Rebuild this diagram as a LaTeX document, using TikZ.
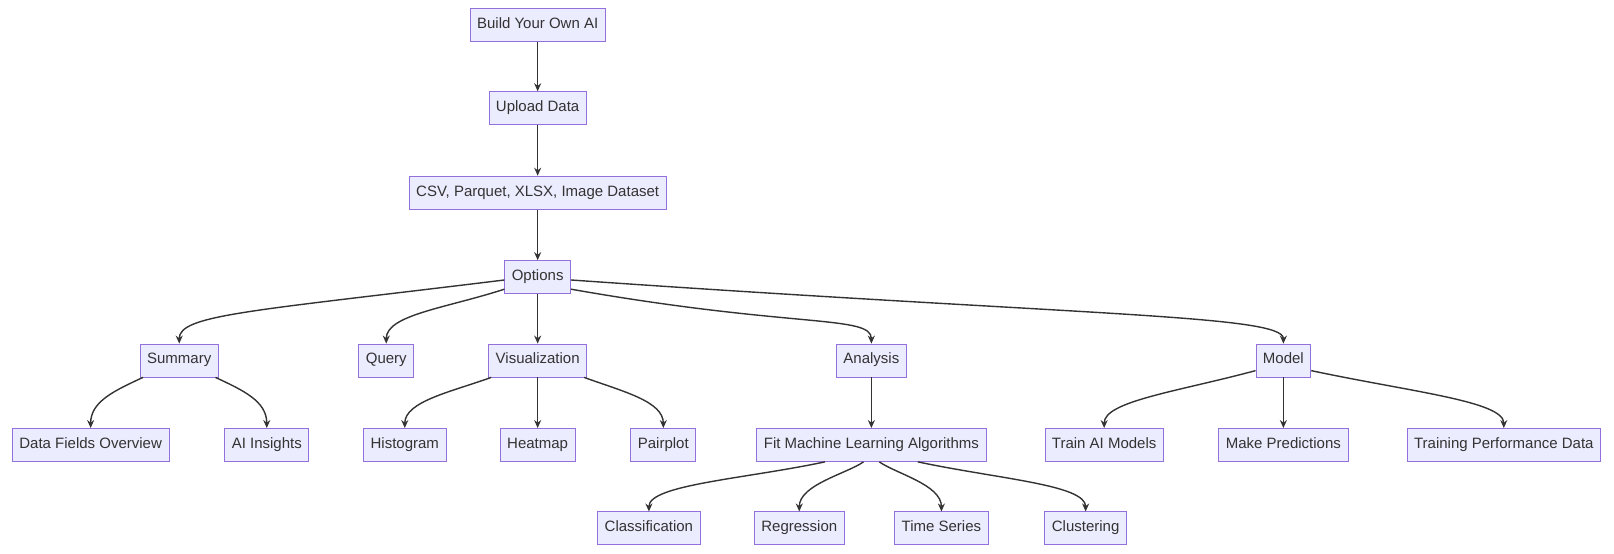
\documentclass[tikz,border=0pt]{standalone}
\usepackage{fontspec}
\setmainfont{Liberation Sans}
\usetikzlibrary{arrows.meta}
\definecolor{boxfill}{HTML}{ECECFF}
\definecolor{boxline}{HTML}{9370DB}
\definecolor{ink}{HTML}{333333}

\begin{document}
\begin{tikzpicture}[x=1.03pt, y=-1.03pt, font=\fontsize{15}{17}\selectfont,
		main/.style = {draw=boxline, fill=boxfill, line width=0.8pt, minimum height=33pt,
			inner xsep=7pt, text height=1.6ex, text depth=0.3ex, text=ink},
		arr/.style = {-{Stealth[length=8pt,width=7pt]}, draw=ink, line width=1.4pt}]
	\useasboundingbox (0pt,0pt) rectangle (1614pt,-554pt);
	\begin{scope}[overlay]
	\node[main] (build) at (522,24) {Build Your Own AI};
	\node[main] (upload) at (522,105) {Upload Data};
	\node[main] (csv) at (522,187) {CSV, Parquet, XLSX, Image Dataset};
	\node[main] (opt) at (522,269) {Options};
	\node[main] (sum) at (174,350) {Summary};
	\node[main] (query) at (375,350) {Query};
	\node[main] (vis) at (522,350) {Visualization};
	\node[main] (ana) at (846,350) {Analysis};
	\node[main] (model) at (1246,350) {Model};
	\node[main] (dfo) at (88,432) {Data Fields Overview};
	\node[main] (ins) at (259,432) {AI Insights};
	\node[main] (hist) at (393,432) {Histogram};
	\node[main] (heat) at (522,432) {Heatmap};
	\node[main] (pair) at (644,432) {Pairplot};
	\node[main] (fit) at (846,432) {Fit Machine Learning Algorithms};
	\node[main] (train) at (1072,432) {Train AI Models};
	\node[main] (pred) at (1246,432) {Make Predictions};
	\node[main] (perf) at (1460,432) {Training Performance Data};
	\node[main] (cls) at (630,513) {Classification};
	\node[main] (reg) at (776,513) {Regression};
	\node[main] (ts) at (914,513) {Time Series};
	\node[main] (clu) at (1054,513) {Clustering};
	% main chain
	\draw[arr] (build) -- (upload);
	\draw[arr] (upload) -- (csv);
	\draw[arr] (csv) -- (opt);
	% options
	\draw[arr] (opt.185) .. controls +(173:250) and +(0,-28) .. (sum.north);
	\draw[arr] (opt.200) .. controls +(162:60) and +(0,-28) .. (query.north);
	\draw[arr] (opt) -- (vis);
	\draw[arr] (opt.340) .. controls +(10:220) and +(0,-28) .. (ana.north);
	\draw[arr] (opt.355) .. controls +(4:500) and +(0,-28) .. (model.north);
	% second level
	\draw[arr] (sum.205) .. controls +(155:30) and +(0,-26) .. (dfo.north);
	\draw[arr] (sum.335) .. controls +(25:30) and +(0,-26) .. (ins.north);
	\draw[arr] (vis.200) .. controls +(160:40) and +(0,-26) .. (hist.north);
	\draw[arr] (vis) -- (heat);
	\draw[arr] (vis.340) .. controls +(20:40) and +(0,-26) .. (pair.north);
	\draw[arr] (ana) -- (fit);
	\draw[arr] (model.200) .. controls +(165:80) and +(0,-26) .. (train.north);
	\draw[arr] (model) -- (pred);
	\draw[arr] (model.340) .. controls +(12:100) and +(0,-26) .. (perf.north);
	% algorithms
	\draw[arr] (fit.200) .. controls +(168:80) and +(0,-26) .. (cls.north);
	\draw[arr] (fit.245) .. controls +(145:20) and +(0,-26) .. (reg.north);
	\draw[arr] (fit.295) .. controls +(35:20) and +(0,-26) .. (ts.north);
	\draw[arr] (fit.340) .. controls +(12:80) and +(0,-26) .. (clu.north);
	\end{scope}
\end{tikzpicture}
\end{document}
